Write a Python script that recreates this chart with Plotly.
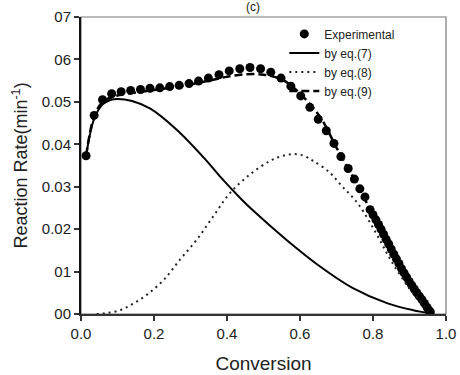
import plotly.graph_objects as go

# Experimental data
exp_x = [0.014, 0.036, 0.059, 0.084, 0.110, 0.136, 0.163, 0.189, 0.216, 0.243, 0.269, 0.296,
         0.322, 0.349, 0.378, 0.406, 0.435, 0.463, 0.492, 0.520, 0.548, 0.575, 0.602, 0.627,
         0.650, 0.672, 0.693, 0.712, 0.732, 0.749, 0.764, 0.778,
         0.792, 0.800, 0.808, 0.815, 0.822, 0.829, 0.836, 0.843, 0.850, 0.857, 0.864, 0.871,
         0.878, 0.885, 0.892, 0.899, 0.906, 0.913, 0.920, 0.927, 0.934, 0.941, 0.948, 0.953, 0.957]
exp_y = [0.0373, 0.0468, 0.0505, 0.0519, 0.0524, 0.0527, 0.0529, 0.0532, 0.0533, 0.0536, 0.0539, 0.0543,
         0.0549, 0.0556, 0.0564, 0.0573, 0.0578, 0.0581, 0.0578, 0.0570, 0.0556, 0.0537, 0.0514, 0.0487,
         0.0459, 0.0432, 0.0402, 0.0371, 0.0343, 0.0318, 0.0295, 0.0276,
         0.0246, 0.0234, 0.0222, 0.0211, 0.0200, 0.0188, 0.0176, 0.0165, 0.0153, 0.0141, 0.0130, 0.0119,
         0.0107, 0.0097, 0.0087, 0.0077, 0.0068, 0.0059, 0.0050, 0.0042, 0.0034, 0.0025, 0.0016, 0.0009, 0.0005]

# Model by eq.(7)
eq7_x = [0.014, 0.036, 0.06, 0.08, 0.10, 0.14, 0.19, 0.26, 0.34, 0.38, 0.44, 0.47, 0.56, 0.655, 0.745, 0.84, 0.91, 0.956]
eq7_y = [0.0373, 0.0460, 0.0495, 0.0504, 0.0507, 0.0502, 0.0484, 0.0436, 0.0365, 0.0325, 0.0270, 0.0245, 0.0177, 0.0112, 0.0061, 0.0025, 0.0009, 0.0002]

# Model by eq.(8)
eq8_x = [0.043, 0.07, 0.107, 0.14, 0.18, 0.226, 0.271, 0.317, 0.363, 0.408, 0.463, 0.518, 0.55, 0.582,
         0.61, 0.636, 0.682, 0.714, 0.737, 0.764, 0.81, 0.85, 0.90, 0.93, 0.956]
eq8_y = [0.0, 0.0002, 0.0009, 0.0023, 0.0045, 0.0080, 0.0128, 0.0175, 0.0231, 0.0285, 0.0329, 0.0361, 0.0372, 0.0377,
         0.0373, 0.0361, 0.0333, 0.0302, 0.0282, 0.0254, 0.0188, 0.0125, 0.0060, 0.0030, 0.0002]

# Model by eq.(9)
eq9_x = [0.014, 0.036, 0.06, 0.10, 0.15, 0.20, 0.25, 0.30, 0.35, 0.40, 0.45, 0.50, 0.55, 0.58,
         0.62, 0.66, 0.70, 0.75, 0.80, 0.85, 0.90, 0.93, 0.956]
eq9_y = [0.0373, 0.0465, 0.0500, 0.0515, 0.0522, 0.0528, 0.0534, 0.0541, 0.0550, 0.0559, 0.0565, 0.0564, 0.0553, 0.0535,
         0.0502, 0.0458, 0.0392, 0.0315, 0.0234, 0.0153, 0.0074, 0.0040, 0.0005]

x_ticks = [0.0, 0.2, 0.4, 0.6, 0.8, 1.0]
x_ticktext = ["0.0", "0.2", "0.4", "0.6", "0.8", "1.0"]
y_ticks = [0.0, 0.01, 0.02, 0.03, 0.04, 0.05, 0.06, 0.07]
y_ticktext = ["00", "01", "0.02", "0.03", "0.04", "0.05", "06", "07"]

fig = go.Figure()
fig.add_trace(go.Scatter(x=exp_x, y=exp_y, mode="markers", name="Experimental",
                         marker=dict(color="black", size=9)))
fig.add_trace(go.Scatter(x=eq7_x, y=eq7_y, mode="lines", name="by eq.(7)", line_shape="spline",
                         line=dict(color="black", width=2)))
fig.add_trace(go.Scatter(x=eq8_x, y=eq8_y, mode="lines", name="by eq.(8)", line_shape="spline",
                         line=dict(color="#222", width=2, dash="2px,4px")))
fig.add_trace(go.Scatter(x=eq9_x, y=eq9_y, mode="lines", name="by eq.(9)", line_shape="spline",
                         line=dict(color="black", width=2.5, dash="8px,4px")))

fig.update_layout(
    width=460, height=375,
    margin=dict(l=81, r=14, t=17, b=61, autoexpand=False),
    paper_bgcolor="white", plot_bgcolor="white",
    font=dict(family="Arial, Liberation Sans, sans-serif", color="#222"),
    showlegend=True,
    legend=dict(x=0.557, y=0.992, xanchor="left", yanchor="top", bgcolor="rgba(0,0,0,0)",
                font=dict(size=12, color="#222"), tracegroupgap=0, itemwidth=30),
    xaxis=dict(range=[0, 1.0], tickvals=x_ticks, ticktext=x_ticktext, ticks="outside", ticklen=5,
               tickwidth=1.5, tickcolor="#333", showline=True, linecolor="#333", linewidth=2,
               showgrid=False, zeroline=False, tickfont=dict(size=15, color="#222"),
               ticklabeloverflow="allow", automargin=False,
               title=dict(text="Conversion", font=dict(size=19, color="#222"), standoff=16)),
    yaxis=dict(range=[0, 0.07], tickvals=y_ticks, ticktext=y_ticktext, ticks="outside", ticklen=5,
               tickwidth=1.5, tickcolor="#333", showline=True, linecolor="#111", linewidth=2,
               showgrid=False, zeroline=False, tickfont=dict(size=15, color="#222"),
               automargin=False,
               title=dict(text="Reaction Rate(min<sup>-1</sup>)", font=dict(size=18, color="#222"), standoff=9)),
    shapes=[dict(type="rect", xref="paper", yref="paper", x0=0, y0=0, x1=1, y1=1,
                 line=dict(color="#777", width=1.2), layer="below")],
    annotations=[dict(text="(c)", xref="paper", yref="paper", x=0.47, y=1.0, xanchor="center",
                      yanchor="bottom", yshift=1, showarrow=False, font=dict(size=12, color="#222"))],
)

fig.write_html("out.html", config={"displayModeBar": False},
               post_script="document.body.style.margin='0';")
